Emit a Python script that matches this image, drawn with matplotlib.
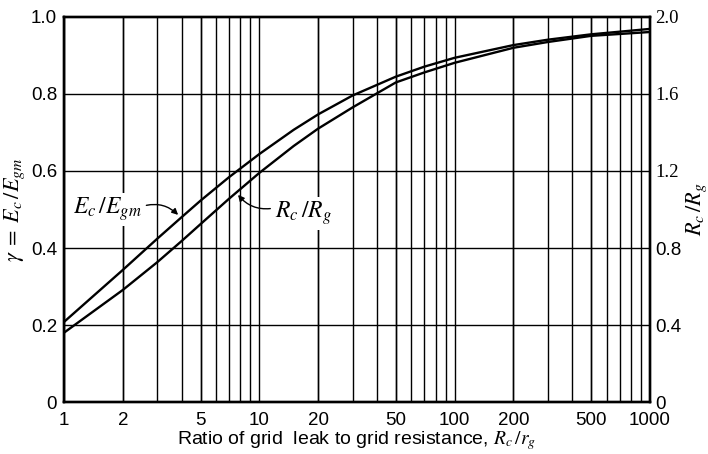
import matplotlib
matplotlib.use("Agg")
import matplotlib.pyplot as plt
from matplotlib.ticker import FixedLocator, NullFormatter, NullLocator

# Grid-leak ratio R_c/r_g and the two characteristic curves
ratio = [1, 2, 3, 4, 5, 7, 10, 15, 20, 30, 50, 70, 100, 200, 300, 500, 1000]
ec_egm = [0.208, 0.343, 0.424, 0.480, 0.523, 0.584, 0.644, 0.707, 0.747, 0.796,
          0.845, 0.871, 0.894, 0.927, 0.941, 0.955, 0.969]
rc_rg = [0.360, 0.582, 0.726, 0.836, 0.924, 1.056, 1.190, 1.330, 1.420, 1.530,
         1.660, 1.712, 1.762, 1.840, 1.870, 1.902, 1.922]

x_ticks = [1, 2, 5, 10, 20, 50, 100, 200, 500, 1000]
x_ticklabels = ["1", "2", "5", "10", "20", "50", "100", "200", "500", "1000"]
left_ticks = [0, 0.2, 0.4, 0.6, 0.8, 1.0]
left_ticklabels = ["0", "0.2", "0.4", "0.6", "0.8", "1.0"]
right_ticks = [0, 0.4, 0.8, 1.2, 1.6, 2.0]
right_ticklabels = ["0", "0.4", "0.8", "1.2", "1.6", "2.0"]

plt.rcParams["font.family"] = ["Liberation Sans", "DejaVu Sans"]
plt.rcParams["mathtext.fontset"] = "stix"

fig = plt.figure(figsize=(7.08, 4.54), dpi=100)
ax = fig.add_axes([0.0904, 0.1145, 0.8276, 0.8481])
ax2 = ax.twinx()

ax.set_xscale("log")
ax.set_xlim(1, 1000)
ax.set_ylim(0, 1.0)
ax2.set_ylim(0, 2.0)

# log grid: vertical lines at every 1..9 x 10^n, horizontal at 0.2 steps
minor = [m * 10 ** d for d in range(3) for m in range(2, 10)]
ax.xaxis.set_major_locator(FixedLocator(x_ticks))
ax.xaxis.set_minor_locator(FixedLocator(minor))
ax.xaxis.set_minor_formatter(NullFormatter())
ax.set_xticklabels(x_ticklabels)
ax.set_yticks(left_ticks)
ax.set_yticklabels(left_ticklabels)
ax2.set_yticks(right_ticks)
ax2.set_yticklabels(right_ticklabels)
ax2.yaxis.set_minor_locator(NullLocator())

for v in minor + x_ticks:
    ax.axvline(v, color="black", lw=1.0, zorder=1)
for v in left_ticks[1:-1]:
    ax.axhline(v, color="black", lw=1.0, zorder=1)

ax.tick_params(axis="x", which="both", length=0, labelsize=13.5, pad=7)
ax.tick_params(axis="y", which="both", length=0, labelsize=13.5, pad=5)
ax2.tick_params(axis="y", which="both", length=0, labelsize=13.5, pad=4)
for lbl in ax2.get_yticklabels()[3:]:
    lbl.set_fontfamily("Liberation Serif")

for a in (ax, ax2):
    for s in a.spines.values():
        s.set_linewidth(1.7)

ax.plot(ratio, ec_egm, color="black", lw=1.7, zorder=3)
ax2.plot(ratio, rc_rg, color="black", lw=1.7, zorder=3)

ax.annotate(r"$E_c\,/E_{gm}$", xy=(3.84, 0.486), xytext=(1.66, 0.50),
            ha="center", va="center", fontsize=17, zorder=5,
            bbox=dict(boxstyle="square,pad=0.1", fc="white", ec="none"),
            arrowprops=dict(arrowstyle="-|>", color="black", lw=1.0,
                            mutation_scale=9, relpos=(1.0, 0.6),
                            shrinkA=2, shrinkB=0,
                            connectionstyle="arc3,rad=-0.3"))
ax.annotate(r"$R_c\,/R_g$", xy=(7.78, 0.538), xytext=(16.9, 0.49),
            ha="center", va="center", fontsize=17, zorder=5,
            bbox=dict(boxstyle="square,pad=0.1", fc="white", ec="none"),
            arrowprops=dict(arrowstyle="-|>", color="black", lw=1.0,
                            mutation_scale=9, relpos=(0.0, 0.7),
                            shrinkA=2, shrinkB=0,
                            connectionstyle="arc3,rad=-0.3"))

ax.set_xlabel(r"Ratio of grid  leak to grid resistance, $R_c\,/r_g$",
              fontsize=14, labelpad=0)
ax.set_ylabel(r"$\gamma\;=\;E_c\,/E_{gm}$", fontsize=16, labelpad=3)
ax2.set_ylabel(r"$R_c\,/R_g$", fontsize=16, labelpad=2)

fig.savefig("out.png", dpi=100)
